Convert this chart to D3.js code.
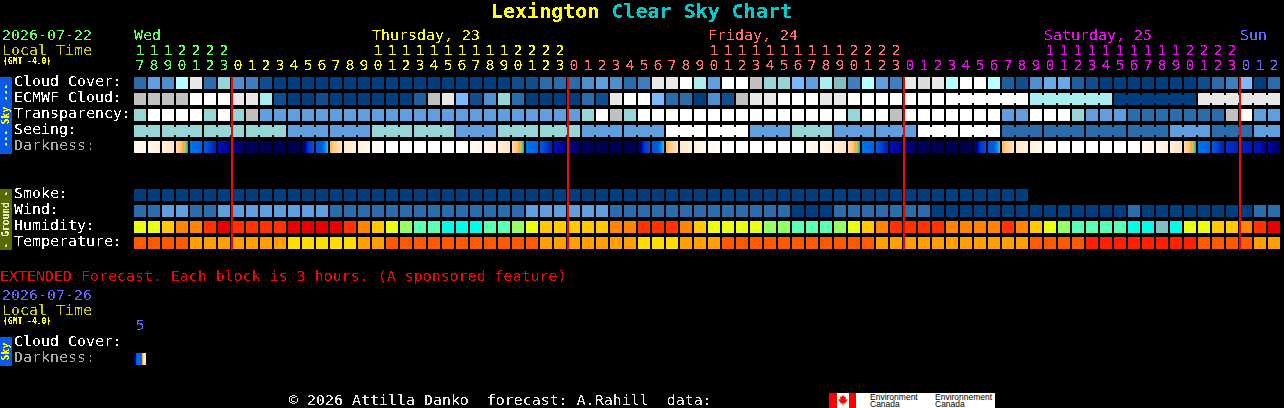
<!DOCTYPE html>
<html><head><meta charset="utf-8">
<script src="https://cdn.jsdelivr.net/npm/d3@7/dist/d3.min.js"></script>
<style>
html,body{margin:0;padding:0;background:#000;overflow:hidden}
svg{display:block}
text{font-family:"DejaVu Sans Mono",monospace;font-size:14.95px;white-space:pre}
</style></head><body><div id="c"></div>
<script>
// ---- data ----
const hours=[17,18,19,20,21,22,23,
 0,1,2,3,4,5,6,7,8,9,10,11,12,13,14,15,16,17,18,19,20,21,22,23,
 0,1,2,3,4,5,6,7,8,9,10,11,12,13,14,15,16,17,18,19,20,21,22,23,
 0,1,2,3,4,5,6,7,8,9,10,11,12,13,14,15,16,17,18,19,20,21,22,23,
 0,1,2];
const dayOfBlock=[...Array(7).fill(0),...Array(24).fill(1),...Array(24).fill(2),...Array(24).fill(3),...Array(3).fill(4)];
const dayColors=["#66ff66","#ffff00","#ff7070","#ff00ff","#6666ff"];
const dayLabels=["Wed","Thursday, 23","Friday, 24","Saturday, 25","Sun"];
const dayLabelBlock=[0,17,41,65,79];
const midnights=[7,31,55,79];

const skyPalette=["#003f7f","#0f4f8f","#1f5f9f","#2b6cac","#3f7fc0","#4f8fcf","#5f9fe0","#6aaae8","#7ab8ff","#7fbfbf","#96d6d6","#a8eeee","#b4ffff","#c0c0c0","#dcdcdc","#e8e8e8","#ffffff"];
const cloudCover=[3,6,5,12,15,3,10,5,4,1,0,0,0,0,0,0,0,0,0,0,0,
 0,0,0,0,0,0,1,1,3,3,3,5,6,5,3,4,15,15,16,11,6,16,16,13,10,10,8,6,11,9,4,
 12,6,4,15,14,15,12,16,16,12,2,1,5,7,7,2,1,0,0,0,0,0,0,0,1,3,4,8,0,3];
const ecmwfCloud=[13,13,13,13,16,16,16,15,15,11,1,0,0,1,0,0,0,0,0,0,2,
 13,15,8,1,5,10,3,0,0,0,0,3,1,15,16,16,8,3,3,0,5,1,13,15,15,16,16,16,15,15,
 16,16,16,16,16,16,16,16,16,16,16,16,16,
 11,11,11,11,11,11,0,0,0,0,0,0,15,15,15,15,15,15];
const ecmwfRuns=[...Array(58).fill(1),6,6,6,6];
const transparency=[10,16,16,16,16,10,16,10,13,
 6,6,6,6,6,6,6,6,6,6,6,6,6,6,6,6,6,6,6,6,6,6,6,
 10,16,13,10,16,16,16,16,16,16,16,16,16,16,16,16,16,16,16,10,
 16,16,13,16,16,16,16,16,16,16,6,6,16,16,16,10,6,6,6,3,3,3,3,3,3,3,13,16,6,6];
const seeingRunValues=[10,10,10,10,6,6,10,10,6,10,10,6,6,16,16,6,10,6,6,16,16,3,3,3,3,6,3,6];
const seeingRuns=[2,3,3,3,3,3,3,3,3,3,3,3,3,3,3,3,3,3,3,3,3,3,3,3,3,3,3,2];
const smoke=Array(64).fill(0);
const wind=[3,3,6,6,3,3,6,6,6,6,6,6,6,6,
 3,3,3,3,3,3,3,3,3,3,3,3,3,3,6,6,6,6,6,6,
 3,3,3,3,3,3,3,3,3,3,3,3,3,0,0,0,3,3,3,3,3,3,3,
 0,0,0,0,0,0,0,0,0,0,0,0,0,0,3,0,0,0,0,0,0,0,0,3,3];
const humidityPalette=["#e80000","#ff3200","#ff8400","#ffc800","#e8ff14","#96ff64","#5affb4","#00ffe8","#7fbfbf"];
const humidity=[4,4,3,2,2,1,0,1,1,1,1,0,0,0,0,1,2,3,4,5,6,6,7,7,7,6,6,5,4,3,3,3,3,3,2,2,1,1,1,2,3,4,4,4,4,5,5,6,6,6,5,4,
 3,2,1,1,1,1,2,2,2,2,1,2,3,4,5,6,6,6,6,7,7,8,7,4,4,3,3,2,1,0];
const tempPalette=["#ff2000","#ff5a00","#ffa000","#ffdc00"];
const temperature=[1,1,1,1,2,2,2,2,2,2,2,3,3,3,3,3,2,2,1,1,1,1,1,1,1,1,1,1,1,
 2,2,2,2,2,2,2,3,3,3,2,2,2,1,1,1,1,1,1,1,1,1,1,1,
 2,2,2,2,2,2,2,2,2,2,2,1,1,1,1,0,0,0,0,0,0,0,0,1,1,1,1,2,2];
// darkness: limiting-magnitude style value at start / middle / end of every block
const darkStops=[-4,-3,-2,-1,-0.4,0,0.5,1,1.6,2.4,3.4,4.2,5,5.7];
const darkColors=["#ffffff","#fff6ea","#ffe8c8","#ffc880","#ffa030","#e0c040","#40d0a0","#00b0f0","#0070e8","#0050d8","#0020b8","#0000a0","#000070","#000050"];
const darkA=[-3.4,-3,-2.5,-1.5,1.6,2.2,3.8,4.7,5.3,5.6,5.7,5.7,5.6,2.2,-0.7,-2.1,-2.6,-3.3,-4,-4,-4,-4,-4,-4,
 -3.4,-3,-2.5,-1.5,1.6,2.2,3.8,4.7,5.3,5.6,5.7,5.7,5.6,2.2,-0.7,-2.1,-2.6,-3.3,-4,-4,-4,-4,-4,-4,
 -3.4,-3,-2.5,-1.5,1.6,2.2,3.8,4.7,5.3,5.6,5.7,5.7,5.6,2.2,-0.7,-2.1,-2.6,-3.3,-4,-4,-4,-4,-4,-4,
 -3.4,-3,-2.5,-1.5,1.6,2.2,3.0,3.4,3.6,4.0];
const darkB=[-3.2,-2.8,-2.2,-0.8,1.7,2.8,4.0,4.9,5.4,5.7,5.7,5.7,3.0,2.1,-1.3,-2.3,-2.8,-3.6,-4,-4,-4,-4,-4,-4,
 -3.2,-2.8,-2.2,-0.8,1.7,2.8,4.0,4.9,5.4,5.7,5.7,5.7,3.0,2.1,-1.3,-2.3,-2.8,-3.6,-4,-4,-4,-4,-4,-4,
 -3.2,-2.8,-2.2,-0.8,1.7,2.8,4.0,4.9,5.4,5.7,5.7,5.7,3.0,2.1,-1.3,-2.3,-2.8,-3.6,-4,-4,-4,-4,-4,-4,
 -3.2,-2.8,-2.2,-0.8,1.7,2.8,3.2,3.5,3.8,4.6];
const darkC=[-3,-2.6,-1.8,0.9,1.9,3.4,4.2,5.1,5.5,5.7,5.7,5.6,2.4,0.8,-1.8,-2.5,-3,-3.9,-4,-4,-4,-4,-4,-4,
 -3,-2.6,-1.8,0.9,1.9,3.4,4.2,5.1,5.5,5.7,5.7,5.6,2.4,0.8,-1.8,-2.5,-3,-3.9,-4,-4,-4,-4,-4,-4,
 -3,-2.6,-1.8,0.9,1.9,3.4,4.2,5.1,5.5,5.7,5.7,5.6,2.4,0.8,-1.8,-2.5,-3,-3.9,-4,-4,-4,-4,-4,-4,
 -3,-2.6,-1.8,0.9,1.9,3.4,3.4,3.6,4.2,5.2];
const extDarkColumns=[5,4.5,2.2,1.8,1.8,1.8,1.8,1.8,-0.5,-1.8,-2,-2];

// ---- layout ----
const W=1284,H=408,BW=12;
const x=d3.scaleLinear().domain([0,82]).range([134,1282]);
const sub=d3.scaleLinear().domain([0,BW]).range([0,BW]);
const rowY={cloud:77,ecmwf:93,transp:109,seeing:125,dark:141,smoke:189,wind:205,humidity:221,temp:237,extDark:353};
const sky=d3.scaleOrdinal(d3.range(skyPalette.length),skyPalette);
const hum=d3.scaleOrdinal(d3.range(humidityPalette.length),humidityPalette);
const tmp=d3.scaleOrdinal(d3.range(tempPalette.length),tempPalette);
const dk=d3.scaleLinear().domain(darkStops).range(darkColors).clamp(true);

const svg=d3.select("#c").append("svg").attr("width",W).attr("height",H).attr("shape-rendering","crispEdges");
svg.append("rect").attr("width",W).attr("height",H).attr("fill","#000");
const defs=svg.append("defs");
const f=defs.append("filter").attr("id","pix").attr("filterUnits","userSpaceOnUse")
  .attr("x",0).attr("y",0).attr("width",W).attr("height",H).attr("color-interpolation-filters","sRGB");
f.append("feComponentTransfer").append("feFuncA").attr("type","discrete").attr("tableValues","0 0 0 0 0 1 1 1 1 1");

function blocks(vals,y,col,name){
  svg.append("g").attr("class",name).selectAll("rect").data(vals).join("rect")
    .attr("x",(d,i)=>x(i)).attr("y",y).attr("width",BW).attr("height",BW).attr("fill",d=>col(d));
}
function connectors(vals,runs,y,col,name){
  let pairs=[],start=0;
  runs.forEach(n=>{for(let k=start;k<start+n-1;k++)pairs.push(k);start+=n;});
  svg.append("g").attr("class",name+"-link").selectAll("rect").data(pairs).join("rect")
    .attr("x",i=>x(i)+BW).attr("y",y+2).attr("width",x(1)-x(0)-BW).attr("height",BW-4).attr("fill",i=>col(vals[i]));
}
const seeing=seeingRuns.flatMap((n,j)=>Array(n).fill(seeingRunValues[j]));

blocks(cloudCover,rowY.cloud,sky,"cloud");
blocks(ecmwfCloud,rowY.ecmwf,sky,"ecmwf"); connectors(ecmwfCloud,ecmwfRuns,rowY.ecmwf,sky,"ecmwf");
blocks(transparency,rowY.transp,sky,"transp");
blocks(seeing,rowY.seeing,sky,"seeing"); connectors(seeing,seeingRuns,rowY.seeing,sky,"seeing");
blocks(smoke,rowY.smoke,sky,"smoke");
blocks(wind,rowY.wind,sky,"wind");
blocks(humidity,rowY.humidity,hum,"hum");
blocks(temperature,rowY.temp,tmp,"temp");

// darkness: each block painted as 1px columns between its three readings
const darkCols=darkA.flatMap((a,i)=>d3.range(BW).map(c=>{
  const t=c/(BW-1), v=t<.5?d3.interpolateNumber(a,darkB[i])(t*2):d3.interpolateNumber(darkB[i],darkC[i])((t-.5)*2);
  return {i,c,v};
}));
svg.append("g").selectAll("rect").data(darkCols).join("rect")
  .attr("x",d=>x(d.i)+sub(d.c)).attr("y",rowY.dark).attr("width",1).attr("height",BW).attr("fill",d=>dk(d.v));
svg.append("g").selectAll("rect").data(extDarkColumns).join("rect")
  .attr("x",(d,c)=>x(0)+sub(c)).attr("y",rowY.extDark).attr("width",1).attr("height",BW).attr("fill",d=>dk(d));

// midnight lines
svg.append("g").selectAll("rect").data(midnights).join("rect")
  .attr("x",d=>x(d)-1).attr("y",77).attr("width",2).attr("height",173).attr("fill","#ff0000");

// side bars
svg.append("rect").attr("x",0).attr("y",77).attr("width",12).attr("height",77).attr("fill","#0a5ae8");
svg.append("rect").attr("x",0).attr("y",189).attr("width",12).attr("height",61).attr("fill","#556b00");
svg.append("rect").attr("x",0).attr("y",337).attr("width",12).attr("height",29).attr("fill","#0a5ae8");

// text layer
const T=svg.append("g").attr("filter","url(#pix)");
function txt(s,px,py,fill,opt={}){
  const t=T.append("text").attr("x",px).attr("y",py).attr("fill",fill).text(s);
  if(opt.size)t.style("font-size",opt.size+"px");
  if(opt.bold)t.style("font-weight","bold");
  if(opt.anchor)t.attr("text-anchor",opt.anchor);
  if(opt.rot)t.attr("transform",`rotate(-90 ${px} ${py})`);
  return t;
}
const t1=T.append("text").attr("x",491).attr("y",18).style("font-size","20px").style("font-weight","bold");
t1.append("tspan").attr("fill","#ffff00").text("Lexington ");
t1.append("tspan").attr("fill","#00cccc").text("Clear Sky Chart");

txt("2026-07-22",2,40,"#66ff66");
txt("Local Time",2,55,"#cccc00");
txt("(GMT -4.0)",3,64,"#ffff00",{size:8,bold:true});
dayLabels.forEach((s,i)=>txt(s,x(dayLabelBlock[i]),40,dayColors[dayOfBlock[dayLabelBlock[i]]]));
hours.forEach((h,i)=>{
  const c=dayColors[dayOfBlock[i]];
  if(h>=10)txt(String(Math.floor(h/10)),x(i)+6,55,c,{anchor:"middle"});
  txt(String(h%10),x(i)+6,70,c,{anchor:"middle"});
});
[["Cloud Cover:",86,"#fff"],["ECMWF Cloud:",102,"#fff"],["Transparency:",118,"#fff"],["Seeing:",134,"#fff"],["Darkness:",150,"#aaa"],
 ["Smoke:",198,"#fff"],["Wind:",214,"#fff"],["Humidity:",230,"#fff"],["Temperature:",246,"#fff"],
 ["Cloud Cover:",346,"#fff"],["Darkness:",362,"#aaa"]].forEach(d=>txt(d[0],14,d[1],d[2]));
txt("--- Sky ---",9,115.5,"#ffff00",{size:9.6,anchor:"middle",rot:true,bold:true});
txt("- Ground -",9,219.5,"#e8e8c0",{size:9.6,anchor:"middle",rot:true,bold:true});
txt("Sky",9,351.5,"#ffff00",{size:9.6,anchor:"middle",rot:true,bold:true});
txt("EXTENDED Forecast. Each block is 3 hours. (A sponsored feature)",0,281,"#ff0000");
txt("2026-07-26",2,300,"#6666ff");
txt("Local Time",2,315,"#cccc00");
txt("(GMT -4.0)",3,324,"#ffff00",{size:8,bold:true});
txt("5",x(0)+6,330,"#6666ff",{anchor:"middle"});
txt("\u00a9 2026 Attilla Danko  forecast: A.Rahill  data:",289,405,"#e8e8e8");

// logo
svg.append("rect").attr("x",829).attr("y",393).attr("width",166).attr("height",15).attr("fill","#fff");
svg.append("rect").attr("x",829).attr("y",393).attr("width",8).attr("height",15).attr("fill","#ff0000");
svg.append("rect").attr("x",849).attr("y",393).attr("width",7).attr("height",15).attr("fill","#ff0000");
svg.append("path").attr("d","M843 395l1.5 2 1.5-.5-.5 3 2-.5-.5 2-1.5 1 .2 1.5-2.2-.3v2h-1v-2l-2.2.3.2-1.5-1.5-1-.5-2 2 .5-.5-3 1.5.5z").attr("fill","#ff0000").attr("shape-rendering","auto");
[["Environment",870,400],["Canada",870,407],["Environnement",935,400],["Canada",935,407]].forEach(d=>{
  svg.append("text").attr("x",d[1]).attr("y",d[2]).attr("fill","#000").style("font-family","'Liberation Sans',sans-serif").style("font-size","8.5px").text(d[0]);
});
</script></body></html>
